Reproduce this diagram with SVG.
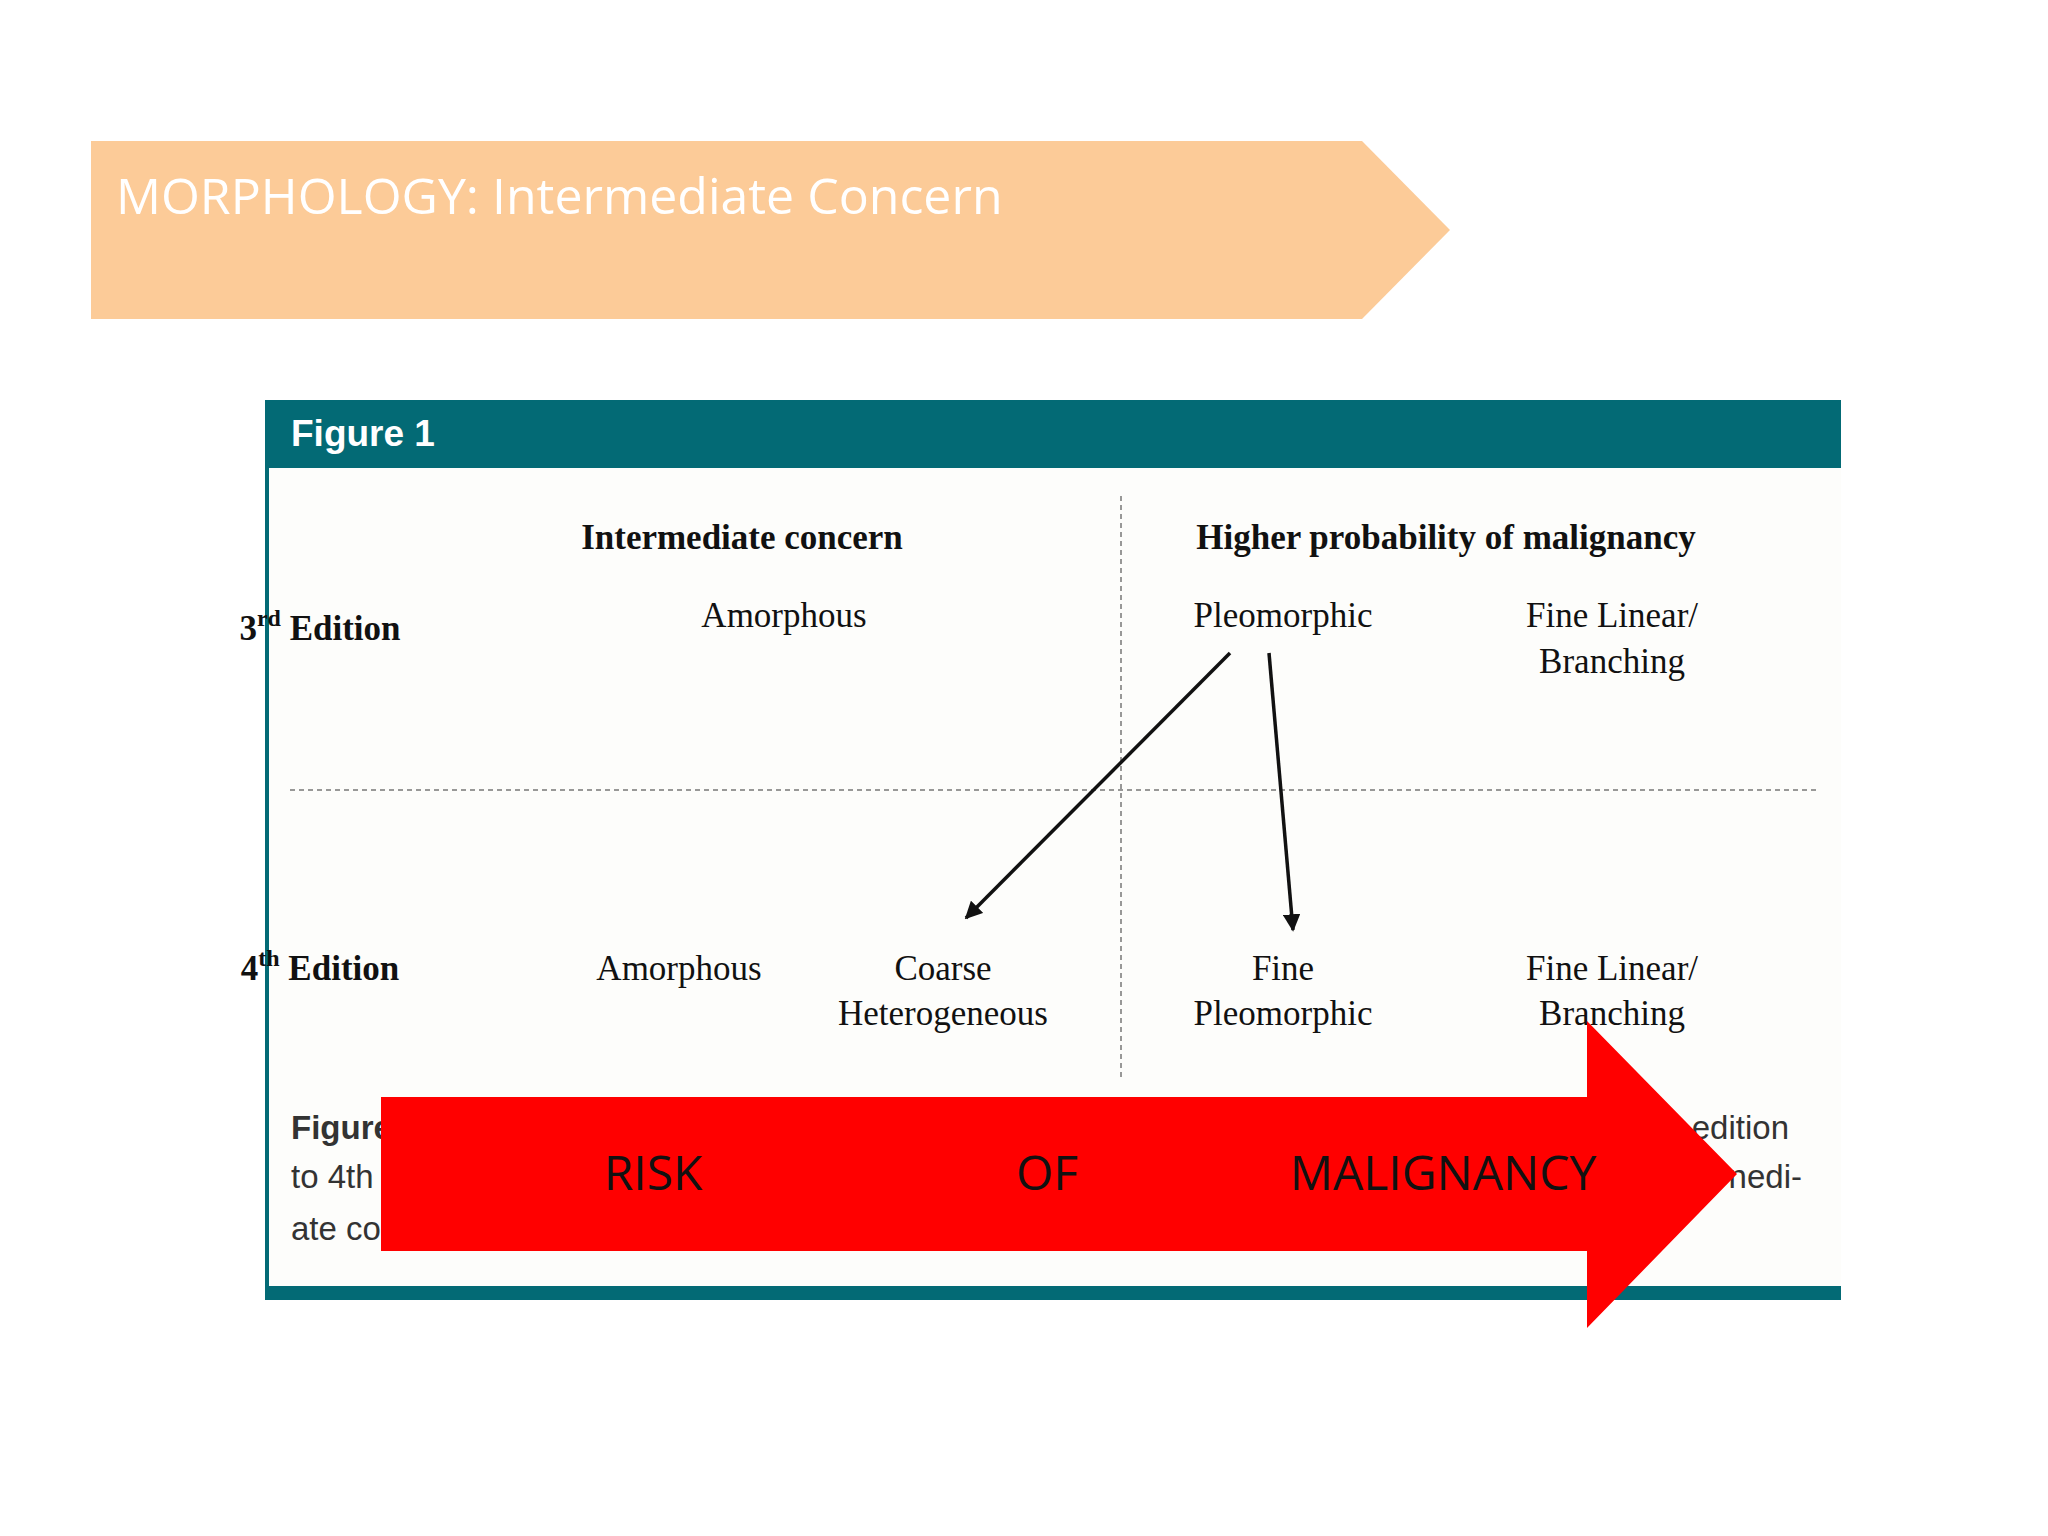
<svg xmlns="http://www.w3.org/2000/svg" width="2048" height="1536" viewBox="0 0 2048 1536">
<defs>
<style>
.s{font-family:"Liberation Serif",serif;font-size:35px;fill:#111;text-anchor:middle}
.b{font-weight:bold}
.cap{font-family:"Liberation Sans",sans-serif;font-size:33px;fill:#333}
.dash{stroke:#777;stroke-width:1.5;stroke-dasharray:5 4;fill:none}
.arr{stroke:#111;stroke-width:3.5;fill:none;marker-end:url(#ah)}
</style>
<marker id="ah" viewBox="0 0 10 10" refX="9" refY="5" markerWidth="5" markerHeight="5" orient="auto"><path d="M0,0L10,5L0,10z" fill="#111"/></marker>
</defs>
<rect width="2048" height="1536" fill="#fff"/>
<g id="banner">
<polygon points="91,141 1362,141 1450,230 1362,319 91,319" fill="#FCCB98"/>
<text x="116" y="214" font-family="Open Sans,sans-serif" font-size="50" fill="#fff">MORPHOLOGY: Intermediate Concern</text>
</g>
<g id="figure">
<rect x="265" y="468" width="1576" height="818" fill="#FDFDFB"/>
<rect x="265" y="400" width="1576" height="68" fill="#036A75"/>
<text x="291" y="446" font-family="Liberation Sans,sans-serif" font-weight="bold" font-size="37" fill="#fff">Figure 1</text>
<rect x="265" y="468" width="4" height="832" fill="#036A75"/>
<rect x="265" y="1286" width="1576" height="14" fill="#036A75"/>
<line class="dash" x1="1121" y1="496" x2="1121" y2="1081"/>
<line class="dash" x1="290" y1="790" x2="1818" y2="790"/>
<text class="s b" x="742" y="549">Intermediate concern</text>
<text class="s b" x="1446" y="549">Higher probability of malignancy</text>
<text class="s b" x="320" y="640" text-anchor="start" font-size="39">3<tspan font-size="24" dy="-14">rd</tspan><tspan dy="14"> Edition</tspan></text>
<text class="s b" x="320" y="980" text-anchor="start" font-size="39">4<tspan font-size="24" dy="-14">th</tspan><tspan dy="14"> Edition</tspan></text>
</g>
<g id="n-amorph3"><text class="s" x="784" y="627">Amorphous</text></g>
<g id="n-pleo3"><text class="s" x="1283" y="627">Pleomorphic</text></g>
<g id="n-fl3"><text class="s" x="1612" y="627">Fine Linear/</text><text class="s" x="1612" y="673">Branching</text></g>
<g id="n-amorph4"><text class="s" x="679" y="980">Amorphous</text></g>
<g id="n-coarse4"><text class="s" x="943" y="980">Coarse</text><text class="s" x="943" y="1025">Heterogeneous</text></g>
<g id="n-finepleo4"><text class="s" x="1283" y="980">Fine</text><text class="s" x="1283" y="1025">Pleomorphic</text></g>
<g id="n-fl4"><text class="s" x="1612" y="980">Fine Linear/</text><text class="s" x="1612" y="1025">Branching</text></g>
<g id="connectors">
<line class="arr" x1="1230" y1="653" x2="966" y2="918"/>
<line class="arr" x1="1269" y1="653" x2="1293" y2="930"/>
</g>
<g id="caption">
<text class="cap" x="291" y="1139" font-weight="bold">Figure 1.</text>
<text class="cap" x="291" y="1188">to 4th</text>
<text class="cap" x="291" y="1240">ate co</text>
<text class="cap" x="1789" y="1139" text-anchor="end">edition</text>
<text class="cap" x="1802" y="1188" text-anchor="end">nedi-</text>
</g>
<g id="risk-arrow">
<polygon points="381,1097 1587,1097 1587,1021 1737,1174 1587,1328 1587,1251 381,1251" fill="#FF0000"/>
<g font-family="Open Sans,sans-serif" font-size="48" fill="#111" text-anchor="middle">
<text x="653" y="1190">RISK</text><text x="1047" y="1190">OF</text><text x="1443" y="1190">MALIGNANCY</text>
</g>
</g>
</svg>
